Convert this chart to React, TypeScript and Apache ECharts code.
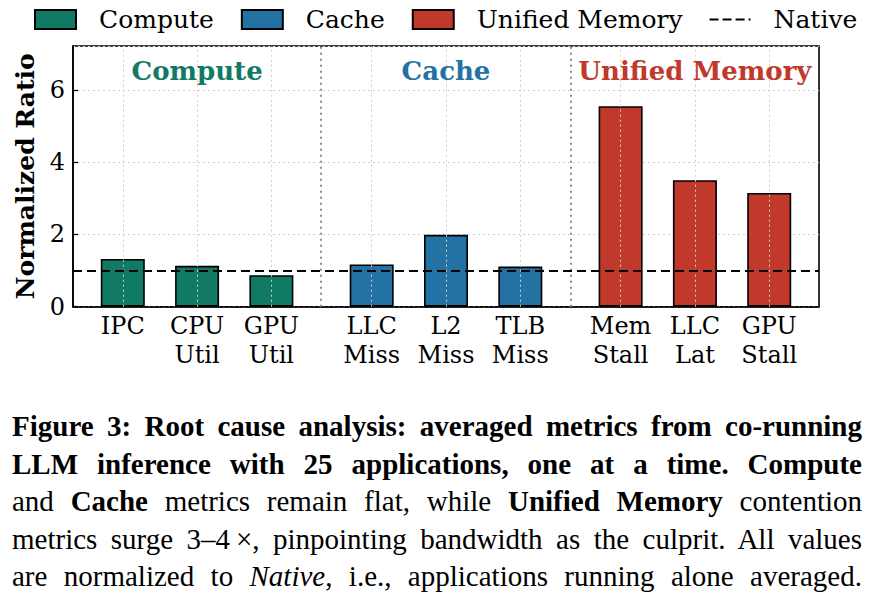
import React, { useEffect, useRef } from "react";
import * as echarts from "echarts";

// ---- data ----
const groupNames = ["Compute", "Cache", "Unified Memory"];
const computeLabels = ["IPC", "CPU\nUtil", "GPU\nUtil"];
const computeValues = [1.32, 1.13, 0.87];
const cacheLabels = ["LLC\nMiss", "L2\nMiss", "TLB\nMiss"];
const cacheValues = [1.17, 1.99, 1.11];
const memoryLabels = ["Mem\nStall", "LLC\nLat", "GPU\nStall"];
const memoryValues = [5.55, 3.5, 3.15];
const nativeValue = 1;
const yTickValues = [0, 2, 4, 6];

// ---- styles / layout ----
const COLORS = ["#117A65", "#2471A3", "#C0392B"];
const GROUP_GAP = 0.35;
const SERIF = "'DejaVu Serif', serif";
const GROUP_LABEL_Y = 6.52;
const DASH_ICON = "path://M0 0h9v2.2H0z M13 0h9v2.2H13z M26 0h9v2.2H26z M39 0h2v2.2H39z";

const groups = [
  { labels: computeLabels, values: computeValues },
  { labels: cacheLabels, values: cacheValues },
  { labels: memoryLabels, values: memoryValues },
];
const posOf = (g: number, i: number) => g * (3 + GROUP_GAP) + i;

const allPositions: number[] = [];
const allLabels: string[] = [];
groups.forEach((grp, g) =>
  grp.labels.forEach((l, i) => {
    allPositions.push(posOf(g, i));
    allLabels.push(l);
  })
);
const separators = [0, 1].map((g) => (posOf(g, 2) + posOf(g + 1, 0)) / 2);
const yMax = Math.max(...computeValues, ...cacheValues, ...memoryValues) * 1.3;
const xMin = -0.67;
const xMax = posOf(2, 2) + 0.67;

function labelFor(v: number) {
  let best = 0;
  let d = Infinity;
  allPositions.forEach((p, i) => {
    if (Math.abs(p - v) < d) {
      d = Math.abs(p - v);
      best = i;
    }
  });
  return allLabels[best];
}

export default function App() {
  const ref = useRef<HTMLDivElement>(null);
  useEffect(() => {
    if (!ref.current) return;
    const chart = echarts.init(ref.current, null, { renderer: "svg" });
    const barSeries = groups.map((grp, g) => ({
      type: "bar",
      name: groupNames[g],
      barWidth: 44,
      barGap: "-100%",
      z: 3,
      itemStyle: { color: COLORS[g], borderColor: "#000", borderWidth: 1.6 },
      data: grp.values.map((v, i) => [posOf(g, i), v]),
    }));
    const option = {
      animation: false,
      backgroundColor: "#fff",
      textStyle: { fontFamily: SERIF },
      legend: {
        data: [
          { name: "Compute", icon: "rect" },
          { name: "Cache", icon: "rect" },
          { name: "Unified Memory", icon: "rect" },
          {
            name: "Native",
            icon: DASH_ICON,
            itemStyle: { color: "#000", borderWidth: 0 },
          },
        ],
        left: 29,
        top: 2,
        width: 860,
        itemWidth: 41,
        itemHeight: 19,
        itemGap: 27,
        selectedMode: false,
        textStyle: {
          fontFamily: SERIF,
          fontSize: 25,
          color: "#000",
          padding: [0, 0, 0, 18],
        },
      },
      grid: {
        left: 73,
        right: 53,
        top: 46,
        height: 260.7,
        show: true,
        borderColor: "#000",
        borderWidth: 1.6,
        backgroundColor: "transparent",
      },
      xAxis: {
        type: "value",
        min: xMin,
        max: xMax,
        axisLine: { show: true, onZero: false, lineStyle: { color: "#000", width: 1.6 } },
        axisTick: { show: false },
        splitLine: { show: false },
        axisLabel: {
          customValues: allPositions,
          formatter: (v: number) => labelFor(v),
          fontFamily: SERIF,
          fontSize: 24,
          lineHeight: 29,
          color: "#000",
          margin: 5,
        },
      },
      yAxis: {
        type: "value",
        min: 0,
        max: yMax,
        interval: 2,
        name: "Normalized Ratio",
        nameLocation: "middle",
        nameGap: 35,
        nameTextStyle: {
          fontFamily: SERIF,
          fontWeight: "bold",
          fontSize: 25,
          color: "#000",
        },
        axisLine: { show: true, onZero: false, lineStyle: { color: "#000", width: 1.6 } },
        axisTick: { show: true, inside: true, length: 5, lineStyle: { color: "#000", width: 1.2 } },
        axisLabel: {
          showMaxLabel: false,
          fontFamily: SERIF,
          fontSize: 24,
          color: "#000",
          margin: 8,
          formatter: (v: number) => (yTickValues.includes(v) ? String(v) : ""),
        },
        splitLine: {
          show: true,
          lineStyle: { color: "#cfcfcf", type: [2, 3], width: 1 },
        },
      },
      series: [
        {
          type: "line",
          name: "grid",
          data: [],
          z: 1,
          silent: true,
          markLine: {
            silent: true,
            symbol: "none",
            label: { show: false },
            lineStyle: { color: "#cfcfcf", type: [2, 3], width: 1 },
            data: allPositions.map((p) => ({ xAxis: p })),
          },
        },
        {
          type: "line",
          name: "sep",
          data: [],
          z: 2,
          silent: true,
          markLine: {
            silent: true,
            symbol: "none",
            label: { show: false },
            lineStyle: { color: "#8c8c8c", type: [2, 4], width: 2 },
            data: separators.map((p) => ({ xAxis: p })),
          },
        },
        ...barSeries,
        {
          type: "line",
          name: "Native",
          data: [],
          symbol: "none",
          z: 5,
          lineStyle: { color: "#000", type: [9, 5], width: 2 },
          itemStyle: { color: "#000" },
          markLine: {
            silent: true,
            symbol: "none",
            label: { show: false },
            lineStyle: { color: "#000", type: [9, 5], width: 2 },
            data: [{ yAxis: nativeValue }],
          },
        },
        {
          type: "scatter",
          name: "groupLabels",
          symbolSize: 1,
          z: 6,
          silent: true,
          itemStyle: { color: "rgba(0,0,0,0)", opacity: 1 },
          label: {
            show: true,
            position: "inside",
            formatter: (p: any) => p.name,
            fontFamily: SERIF,
            fontWeight: "bold",
            fontSize: 26,
            opacity: 1,
          },
          data: groupNames.map((n, g) => ({
            name: n,
            value: [posOf(g, 1), GROUP_LABEL_Y],
            label: { color: COLORS[g] },
          })),
        },
      ],
    };
    chart.setOption(option as any);
    return () => chart.dispose();
  }, []);

  const lineStyle: React.CSSProperties = {
    height: 37.5,
    lineHeight: "37.5px",
    textAlign: "justify",
    textAlignLast: "justify",
    whiteSpace: "nowrap",
  };
  return (
    <div style={{ position: "absolute", left: 0, top: 0, width: 872, height: 604, background: "#fff" }}>
      <div ref={ref} style={{ position: "absolute", left: 0, top: 0, width: 872, height: 604 }} />
      <div
        style={{
          position: "absolute",
          left: 12,
          top: 408,
          width: 850,
          fontFamily: "'Liberation Serif', serif",
          fontSize: 29,
          color: "#000",
        }}
      >
        <div style={{ ...lineStyle, fontWeight: "bold" }}>
          Figure 3: Root cause analysis: averaged metrics from co-running
        </div>
        <div style={{ ...lineStyle, fontWeight: "bold" }}>
          LLM inference with 25 applications, one at a time. Compute
        </div>
        <div style={lineStyle}>
          and <b>Cache</b> metrics remain flat, while <b>Unified Memory</b> contention
        </div>
        <div style={lineStyle}>
          metrics surge 3–4{"\u2009"}×, pinpointing bandwidth as the culprit. All values
        </div>
        <div style={lineStyle}>
          are normalized to <i>Native</i>, i.e., applications running alone averaged.
        </div>
      </div>
    </div>
  );
}
